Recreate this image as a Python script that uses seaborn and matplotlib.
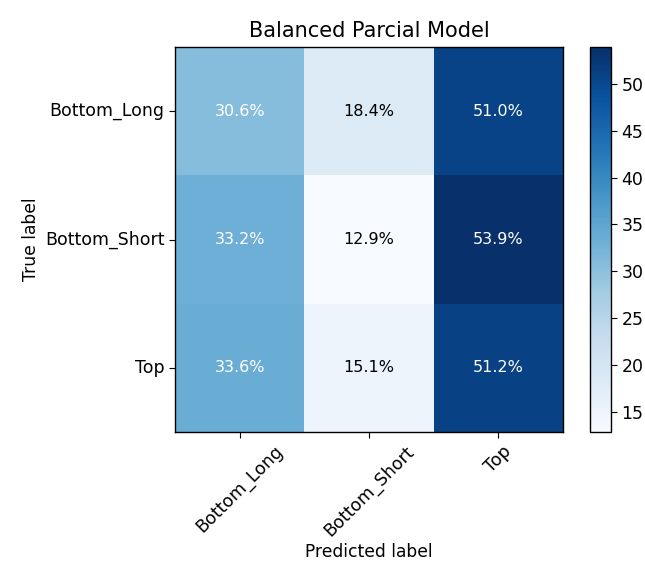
import numpy as np
import pandas as pd
import matplotlib
matplotlib.use("Agg")
import matplotlib.pyplot as plt
import seaborn as sns

classes = ["Bottom_Long", "Bottom_Short", "Top"]
row_bottom_long = [30.6, 18.4, 51.0]
row_bottom_short = [33.2, 12.9, 53.9]
row_top = [33.6, 15.1, 51.2]

cm = pd.DataFrame([row_bottom_long, row_bottom_short, row_top],
                  index=classes, columns=classes)
labels = cm.map(lambda v: f"{v:.1f}%")

fig = plt.figure(figsize=(6.45, 5.65), dpi=100)
ax = fig.add_axes([0.2713, 0.2354, 0.6016, 0.6814])
cax = fig.add_axes([0.9147, 0.2354, 0.0326, 0.6814])

sns.heatmap(cm, ax=ax, cbar_ax=cax, cmap="Blues", annot=labels, fmt="",
            annot_kws={"fontsize": 11.5}, square=False)

# white text on dark cells, black on light ones
thresh = cm.values.max() / 2.0
for t, v in zip(ax.texts, cm.values.ravel()):
    t.set_color("white" if v > thresh else "black")

for s in ax.spines.values():
    s.set_visible(True)
    s.set_color("black")
    s.set_linewidth(1.0)

ax.set_xticks(np.arange(len(classes)) + 0.5)
ax.set_yticks(np.arange(len(classes)) + 0.5)
ax.set_xticklabels(classes, rotation=45, ha="center", fontsize=12.5)
ax.set_yticklabels(classes, rotation=0, fontsize=12.5)
ax.tick_params(axis="both", length=4, width=0.8, color="black")

ax.set_title("Balanced Parcial Model", fontsize=15, pad=7)
ax.set_xlabel("Predicted label", fontsize=12.3, labelpad=2)
ax.set_ylabel("True label", fontsize=12.3, labelpad=4)

cb = ax.collections[0].colorbar
cb.outline.set_visible(True)
cb.outline.set_linewidth(1.0)
cb.outline.set_edgecolor("black")
cb.set_ticks([15, 20, 25, 30, 35, 40, 45, 50])
cax.tick_params(labelsize=12.5, length=4, width=0.8)

fig.savefig("out.png", dpi=100)
